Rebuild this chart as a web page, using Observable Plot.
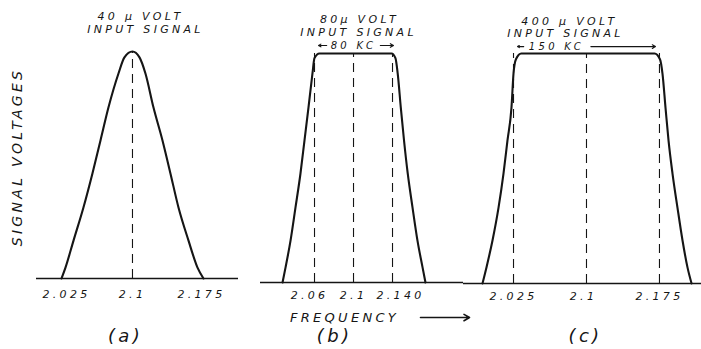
<!DOCTYPE html>
<html><head><meta charset="utf-8">
<script src="https://cdn.jsdelivr.net/npm/d3@7"></script>
<script src="https://cdn.jsdelivr.net/npm/@observablehq/plot@0.6"></script>
<style>
html,body{margin:0;padding:0;background:#fff;}
#chart{position:relative;width:701px;height:349px;overflow:hidden;background:#fff;}
#chart svg{position:absolute;top:0;background:transparent;overflow:visible;}
#chart svg text{letter-spacing:3.3px;}
#chart svg g[aria-label="tick label"] text{letter-spacing:2px;}
#chart svg g[aria-label="band label"] text{letter-spacing:2.5px;}
#chart svg g[aria-label="panel name"] text{letter-spacing:1.5px;}
</style></head><body><div id="chart"></div>
<script>
// ---- data (frequency in MC, relative signal voltage) ----
const freqA = [2.025, 2.0292, 2.0377, 2.0482, 2.0577, 2.0662, 2.0746, 2.0852, 2.0915, 2.1, 2.1074, 2.1137, 2.1222, 2.1317, 2.1401, 2.1486, 2.1592, 2.1687, 2.175];
const ampA  = [0, 0.048, 0.167, 0.313, 0.463, 0.608, 0.753, 0.903, 0.974, 1, 0.974, 0.903, 0.753, 0.608, 0.463, 0.313, 0.167, 0.048, 0];
const freqB = [2.0272, 2.0303, 2.0354, 2.0405, 2.0456, 2.0497, 2.0538, 2.0579, 2.0600, 2.0650, 2.1390, 2.1430, 2.1453, 2.1485, 2.1518, 2.1556, 2.1605, 2.1656, 2.1708, 2.1738];
const ampB  = [0, 0.066, 0.183, 0.328, 0.476, 0.620, 0.764, 0.913, 0.980, 1, 1, 0.980, 0.913, 0.764, 0.620, 0.476, 0.328, 0.183, 0.066, 0];
const freqC = [1.9931, 1.9972, 2.0034, 2.0096, 2.0147, 2.0188, 2.0229, 2.0250, 2.0275, 2.0330, 2.1700, 2.1755, 2.1781, 2.1812, 2.1843, 2.1884, 2.1935, 2.1987, 2.2038, 2.2080];
const ampC  = [0, 0.070, 0.187, 0.330, 0.478, 0.622, 0.765, 0.913, 0.975, 1, 1, 0.975, 0.913, 0.765, 0.622, 0.478, 0.330, 0.187, 0.070, 0];

const dashedA = [2.1];
const dashedB = [2.06, 2.1, 2.14];
const dashedC = [2.025, 2.1, 2.175];
const ticksA = [2.025, 2.1, 2.175];
const labelsA = ["2.025", "2.1", "2.175"];
const ticksB = [2.06, 2.1, 2.14];
const labelsB = ["2.06", "2.1", "2.140"];
const ticksC = [2.025, 2.1, 2.175];
const labelsC = ["2.025", "2.1", "2.175"];

const titlesA = ["40 µ VOLT", "INPUT SIGNAL"];
const titlesB = ["80µ VOLT", "INPUT SIGNAL"];
const titlesC = ["400 µ VOLT", "INPUT SIGNAL"];
const bandLabelB = "80 KC";
const bandLabelC = "150 KC";
const bandArrowFromB = [2.0725, 2.1275];
const bandArrowToB = [2.0641, 2.1410];
const bandArrowFromC = [2.0355, 2.1045];
const bandArrowToC = [2.0291, 2.1709];
const freqArrow = [2.1687, 2.2190];
const panelNames = ["(a)", "(b)", "(c)"];
const yLabel = "SIGNAL VOLTAGES";
const xLabel = "FREQUENCY";

const FONT = "DejaVu Sans, sans-serif";
const INK = "#151515";

function rows(f, a) { return f.map((x, i) => ({x, y: a[i]})); }

function label(value, x, frameAnchor, dx, dy, fontSize, ariaLabel, more) {
  return Plot.text([value], Object.assign({
    x: x == null ? undefined : () => x, text: d => d, frameAnchor, lineAnchor: "middle", textAnchor: "middle",
    dx, dy, fontSize, fontStyle: "italic", fill: INK, ariaLabel
  }, more || {}));
}

function panel({left, width, mL, mR, mT, mB, xDom, freq, amp, dashed, ticks, labels, tickDx, tickDy, titles, tDx, tDy, name, nameDx, nameDy, extra}) {
  const p = Plot.plot({
    width, height: 349,
    marginLeft: mL, marginRight: mR, marginTop: mT, marginBottom: mB,
    x: {domain: xDom, axis: null},
    y: {domain: [0, 1], axis: null},
    style: {background: "transparent", fontFamily: FONT, color: INK},
    marks: [
      Plot.ruleY([0], {stroke: INK, strokeWidth: 1.6}),
      Plot.ruleX(dashed, {x: d => d, y1: 0, y2: 1, stroke: INK, strokeWidth: 1.1, strokeDasharray: "9,6"}),
      Plot.line(rows(freq, amp), {x: "x", y: "y", curve: "monotone-x", stroke: INK, strokeWidth: 2.1}),
      ...ticks.map((t, i) => label(labels[i], t, "bottom", tickDx[i], tickDy, 11, "tick label")),
      label(titles[0], 2.1, "top", tDx[0], tDy[0], 11, "title"),
      label(titles[1], 2.1, "top", tDx[1], tDy[1], 11, "title"),
      label(name, 2.1, "bottom", nameDx, nameDy, 18, "panel name"),
      ...(extra || [])
    ]
  });
  p.style.left = left + "px";
  document.getElementById("chart").appendChild(p);
}

panel({
  left: 0, width: 240, mL: 36, mR: 2, mT: 51, mB: 71, xDom: [1.9986, 2.2120],
  freq: freqA, amp: ampA, dashed: dashedA, ticks: ticksA, labels: labelsA, tickDx: [5, 0, -2], tickDy: 16,
  titles: titlesA, tDx: [8, 13], tDy: [-35, -22],
  name: panelNames[0], nameDx: -7, nameDy: 58,
  extra: [
    label(yLabel, null, "left", -19, -8, 14, "y label", {rotate: -90})
  ]
});

panel({
  left: 240, width: 240, mL: 20, mR: 17, mT: 53, mB: 67, xDom: [2.0046, 2.2128],
  freq: freqB, amp: ampB, dashed: dashedB, ticks: ticksB, labels: labelsB, tickDx: [-5, 0, 8], tickDy: 13,
  titles: titlesB, tDx: [6, 5], tDy: [-34, -21],
  name: panelNames[1], nameDx: -19, nameDy: 54,
  extra: [
    label(bandLabelB, 2.1, "top", 0, -8, 10, "band label"),
    Plot.arrow(bandArrowFromB, {x1: d => d, x2: (d, i) => bandArrowToB[i], y1: () => 1.035, y2: () => 1.035, stroke: INK, strokeWidth: 1.1, headLength: 5}),
    label(xLabel, 2.1, "bottom", -9, 35, 13, "x label"),
    Plot.arrow([freqArrow], {x1: d => d[0], x2: d => d[1], y1: () => -0.153, y2: () => -0.153, stroke: INK, strokeWidth: 1.6, headLength: 6})
  ]
});

panel({
  left: 460, width: 241, mL: 3, mR: 0, mT: 53, mB: 66, xDom: [1.9736, 2.2182],
  freq: freqC, amp: ampC, dashed: dashedC, ticks: ticksC, labels: labelsC, tickDx: [0, -3, 0], tickDy: 13,
  titles: titlesC, tDx: [-17, -21], tDy: [-32, -20],
  name: panelNames[2], nameDx: -1, nameDy: 53,
  extra: [
    label(bandLabelC, 2.1, "top", -30, -7, 10, "band label"),
    Plot.arrow(bandArrowFromC, {x1: d => d, x2: (d, i) => bandArrowToC[i], y1: () => 1.03, y2: () => 1.03, stroke: INK, strokeWidth: 1.1, headLength: 5})
  ]
});
</script></body></html>
